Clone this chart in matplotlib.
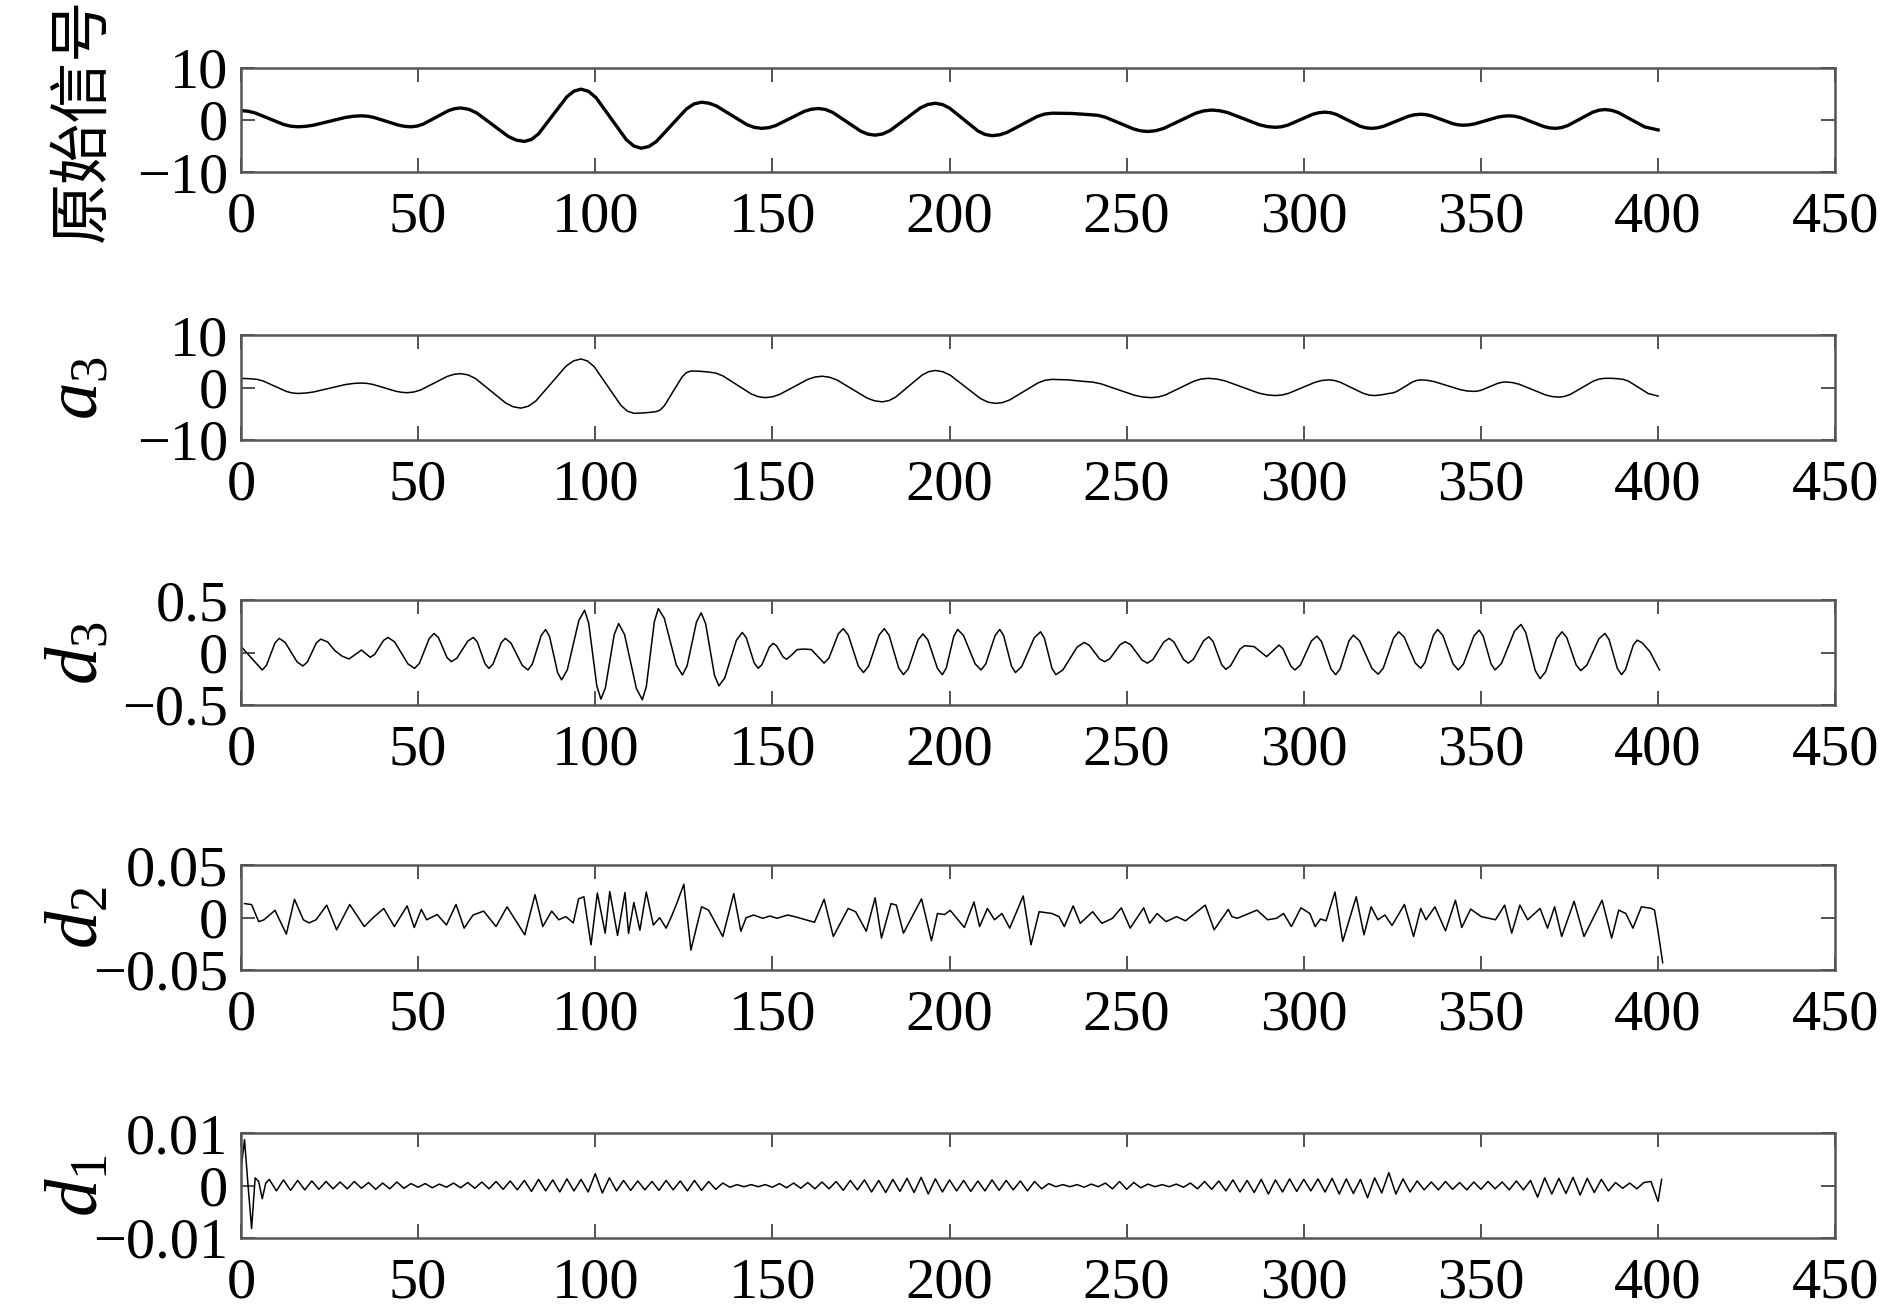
import numpy as np
import matplotlib
matplotlib.use("Agg")
from matplotlib import pyplot as plt

# ---- data (x = sample index) ----
# original signal
sig_x = [0, 2, 4, 8, 12, 14, 16, 18.25, 20.5, 25, 29.5, 31.75, 34, 35.75, 37.5, 41, 44.5,
         46.25, 48, 49.75, 51.5, 55, 58.5, 60.25, 62, 64.25, 66.5, 71, 75.5, 77.75, 80, 82,
         84, 88, 92, 94, 96, 98.125, 100.25, 104.5, 108.75, 110.875, 113, 115.125, 117.25,
         121.5, 125.75, 127.875, 130, 132.125, 134.25, 138.5, 142.75, 144.875, 147, 149,
         151, 155, 159, 161, 163, 165, 167, 171, 175, 177, 179, 181.125, 183.25, 187.5,
         191.75, 193.875, 196, 198, 200, 204, 208, 210, 212, 214.125, 216.25, 220.5, 224.75,
         226.875, 229, 234.5, 240, 242, 244, 248, 252, 254, 256, 258.25, 260.5, 265, 269.5,
         271.75, 274, 276.25, 278.5, 283, 287.5, 289.75, 292, 293.75, 295.5, 299, 302.5,
         304.25, 306, 307.625, 309.25, 312.5, 315.75, 317.375, 319, 320.75, 322.5, 326,
         329.5, 331.25, 333, 334.5, 336, 339, 342, 343.5, 345, 346.625, 348.25, 351.5,
         354.75, 356.375, 358, 359.625, 361.25, 364.5, 367.75, 369.375, 371, 372.75, 374.5,
         378, 381.5, 383.25, 385, 386.875, 388.75, 392.5, 396.25, 400]
sig_y = [1.8, 1.68, 1.35, 0.25, -0.85, -1.18, -1.3, -1.22, -0.99, -0.25, 0.49, 0.72, 0.8,
         0.72, 0.49, -0.25, -0.99, -1.22, -1.3, -1.16, -0.77, 0.5, 1.77, 2.16, 2.3, 2.06,
         1.37, -0.9, -3.17, -3.86, -4.1, -3.72, -2.64, 0.9, 4.44, 5.52, 5.9, 5.47, 4.25,
         0.25, -3.75, -4.97, -5.4, -5.07, -4.12, -1.0, 2.12, 3.07, 3.4, 3.21, 2.67, 0.9,
         -0.87, -1.41, -1.6, -1.46, -1.05, 0.3, 1.65, 2.06, 2.2, 2.01, 1.46, -0.35, -2.16,
         -2.71, -2.9, -2.67, -2.01, 0.15, 2.31, 2.97, 3.2, 2.96, 2.29, 0.1, -2.09, -2.76,
         -3.0, -2.84, -2.37, -0.85, 0.67, 1.14, 1.3, 1.25, 1.0, 0.88, 0.53, -0.6, -1.73,
         -2.08, -2.2, -2.04, -1.6, -0.15, 1.3, 1.74, 1.9, 1.77, 1.42, 0.25, -0.92, -1.27,
         -1.4, -1.29, -0.98, 0.05, 1.08, 1.39, 1.5, 1.38, 1.05, -0.05, -1.15, -1.48, -1.6,
         -1.5, -1.21, -0.25, 0.71, 1.0, 1.1, 1.02, 0.79, 0.05, -0.69, -0.92, -1.0, -0.93,
         -0.74, -0.1, 0.54, 0.73, 0.8, 0.71, 0.45, -0.4, -1.25, -1.51, -1.6, -1.46, -1.07,
         0.2, 1.47, 1.86, 2.0, 1.85, 1.43, 0.05, -1.33, -1.9]

# approximation a3
a3_x = [0, 3, 4.625, 6.25, 9.5, 12.75, 14.375, 16, 18.25, 20.5, 25, 29.5, 31.75, 34,
        35.625, 37.25, 40.5, 43.75, 45.375, 47, 48.875, 50.75, 54.5, 58.25, 60.125, 62,
        64.125, 66.25, 70.5, 74.75, 76.875, 79, 81.125, 83.25, 87.5, 91.75, 93.875, 96,
        97.875, 99.75, 103.5, 107.25, 109.125, 111, 114, 117, 118.25, 119.5, 122, 124.5,
        125.75, 127, 129.5, 132, 134, 136, 140, 144, 146, 148, 150, 152, 156, 160, 162, 164,
        166.125, 168.25, 172.5, 176.75, 178.875, 181, 182.875, 184.75, 188.5, 192.25,
        194.125, 196, 198.125, 200.25, 204.5, 208.75, 210.875, 213, 215, 217, 221, 225, 227,
        229, 233.5, 238, 240.375, 242.75, 247.5, 252.25, 254.625, 257, 259, 261, 265, 269,
        271, 273, 275.375, 277.75, 282.5, 287.25, 289.625, 292, 293.875, 295.75, 299.5,
        303.25, 305.125, 307, 308.625, 310.25, 313.5, 316.75, 318.375, 320, 322, 324,
        325.125, 326.25, 328.5, 330.75, 331.875, 333, 334.875, 336.75, 340.5, 344.25,
        346.125, 348, 349.125, 350.25, 352.5, 354.75, 355.875, 357, 358.875, 360.75, 364.5,
        368.25, 370.125, 372, 373.625, 375.25, 378.5, 381.75, 383.375, 385, 387, 389,
        390.375, 391.75, 394.5, 397.25, 400]
a3_y = [1.8, 1.7, 1.59, 1.29, 0.3, -0.69, -0.99, -1.1, -1.02, -0.81, -0.1, 0.61, 0.82,
        0.9, 0.83, 0.63, -0.03, -0.68, -0.88, -0.95, -0.81, -0.42, 0.88, 2.17, 2.56, 2.7,
        2.45, 1.74, -0.6, -2.94, -3.65, -3.9, -3.54, -2.53, 0.8, 4.13, 5.14, 5.5, 5.1, 3.98,
        0.3, -3.38, -4.5, -4.9, -4.8, -4.6, -4.3, -3.46, -0.7, 2.06, 2.9, 3.2, 3.15, 3.0,
        2.81, 2.28, 0.55, -1.18, -1.71, -1.9, -1.74, -1.3, 0.15, 1.6, 2.04, 2.2, 2.01, 1.48,
        -0.25, -1.98, -2.51, -2.7, -2.47, -1.82, 0.3, 2.42, 3.07, 3.3, 3.06, 2.38, 0.15,
        -2.08, -2.76, -3.0, -2.83, -2.33, -0.7, 0.93, 1.43, 1.6, 1.5, 1.2, 1.08, 0.75, -0.35,
        -1.45, -1.78, -1.9, -1.76, -1.36, -0.05, 1.26, 1.66, 1.8, 1.67, 1.32, 0.15, -1.02,
        -1.37, -1.5, -1.39, -1.06, 0.0, 1.06, 1.39, 1.5, 1.39, 1.06, 0.0, -1.06, -1.39, -1.5,
        -1.35, -1.1, -1.0, -0.72, 0.2, 1.12, 1.4, 1.5, 1.42, 1.18, 0.4, -0.38, -0.62, -0.7,
        -0.63, -0.44, 0.2, 0.84, 1.03, 1.1, 0.99, 0.68, -0.35, -1.38, -1.69, -1.8, -1.66,
        -1.27, 0.0, 1.27, 1.66, 1.8, 1.8, 1.7, 1.57, 1.22, 0.05, -1.12, -1.6]

# detail d3
d3_x = [0, 6, 7.2, 9.6, 10.8, 12.475, 15.825, 17.5, 18.75, 21.25, 22.5, 24.5, 26.5, 28.5,
        30.5, 32.25, 34, 36.5, 37.75, 40.25, 41.5, 43.375, 47.125, 49, 50.375, 53.125, 54.5,
        55.725, 58.175, 59.4, 60.95, 64.05, 65.6, 66.7, 68.9, 70, 71.15, 73.45, 74.6, 76.2,
        79.4, 81, 82.25, 84.75, 86, 87.125, 89.375, 90.5, 92.125, 95.375, 97, 98.15, 100.45,
        101.6, 102.85, 105.35, 106.6, 108.275, 111.625, 113.3, 114.425, 116.675, 117.8,
        119.5, 122.9, 124.6, 125.925, 128.575, 129.9, 131.15, 133.65, 134.9, 136.55,
        139.85, 141.5, 142.625, 144.875, 146, 147.05, 149.15, 150.2, 151.15, 153.05, 154,
        155.5, 157, 159, 161, 162.8, 164.6, 165.95, 168.65, 170, 171.425, 174.275, 175.7,
        177.175, 180.125, 181.6, 182.95, 185.65, 187, 188.375, 191.125, 192.5, 193.875,
        196.625, 198, 199.075, 201.225, 202.3, 203.95, 207.25, 208.9, 210.225, 212.875,
        214.2, 215.3, 217.5, 218.6, 220.375, 223.925, 225.7, 226.775, 228.925, 230, 232,
        236, 238, 239.45, 242.35, 243.8, 245.25, 248.15, 249.6, 251.175, 254.325, 255.9,
        257.425, 260.475, 262, 263.35, 266.05, 267.4, 268.85, 271.75, 273.2, 274.4, 276.8,
        278, 279.325, 281.975, 283.3, 286, 287.75, 289.5, 291.25, 293, 294.125, 296.375,
        297.5, 299.05, 302.15, 303.7, 305.025, 307.675, 309, 310.25, 312.75, 314, 315.75,
        319.25, 321, 322.45, 325.35, 326.8, 328.35, 331.45, 333, 334.2, 336.6, 337.8,
        339.25, 342.15, 343.6, 345.075, 348.025, 349.5, 350.625, 352.875, 354, 355.825,
        359.475, 361.3, 362.65, 365.35, 366.7, 368.25, 371.35, 372.9, 374.225, 376.875,
        378.2, 379.9, 383.3, 385, 386.175, 388.525, 389.7, 390.8, 393, 394.1, 395.5, 397.7,
        400.4]
d3_y = [0.06, -0.165, -0.121, 0.093, 0.137, 0.098, -0.088, -0.127, -0.089, 0.092, 0.13,
        0.102, 0.02, -0.032, -0.06, -0.018, 0.025, -0.044, -0.016, 0.118, 0.146, 0.103,
        -0.107, -0.15, -0.101, 0.135, 0.184, 0.145, -0.047, -0.086, -0.052, 0.112, 0.146,
        0.103, -0.107, -0.15, -0.108, 0.095, 0.137, 0.093, -0.121, -0.165, -0.108, 0.165,
        0.222, 0.152, -0.19, -0.26, -0.163, 0.309, 0.406, 0.282, -0.32, -0.444, -0.338,
        0.173, 0.279, 0.173, -0.344, -0.45, -0.323, 0.295, 0.422, 0.329, -0.12, -0.213,
        -0.126, 0.294, 0.381, 0.279, -0.215, -0.317, -0.242, 0.119, 0.194, 0.144, -0.099,
        -0.149, -0.114, 0.054, 0.089, 0.067, -0.041, -0.063, -0.02, 0.03, 0.035, 0.03,
        -0.035, -0.10, -0.052, 0.182, 0.23, 0.169, -0.129, -0.19, -0.129, 0.169, 0.23,
        0.166, -0.146, -0.21, -0.153, 0.123, 0.18, 0.123, -0.153, -0.21, -0.147, 0.159,
        0.222, 0.165, -0.108, -0.165, -0.108, 0.165, 0.222, 0.162, -0.13, -0.19, -0.133,
        0.143, 0.2, 0.14, -0.15, -0.21, -0.165, 0.053, 0.098, 0.071, -0.059, -0.086, -0.058,
        0.077, 0.105, 0.075, -0.07, -0.10, -0.065, 0.102, 0.137, 0.102, -0.065, -0.10,
        -0.063, 0.115, 0.152, 0.107, -0.114, -0.159, -0.126, 0.034, 0.067, 0.058, 0.01,
        -0.038, 0.018, 0.073, 0.038, -0.13, -0.165, -0.118, 0.112, 0.159, 0.105, -0.156,
        -0.21, -0.155, 0.113, 0.168, 0.113, -0.151, -0.206, -0.147, 0.141, 0.2, 0.149,
        -0.098, -0.149, -0.095, 0.168, 0.222, 0.165, -0.108, -0.165, -0.109, 0.16, 0.216,
        0.16, -0.109, -0.165, -0.101, 0.206, 0.27, 0.194, -0.172, -0.248, -0.183, 0.135,
        0.2, 0.146, -0.117, -0.171, -0.119, 0.132, 0.184, 0.126, -0.152, -0.21, -0.162,
        0.072, 0.12, 0.095, 0.01, -0.165]

# detail d2 (turning points)
d2_x = [1, 3, 5, 6.5, 9.6, 12.8, 15.1, 17.6, 19.2, 21.2, 24.2, 27, 30.7, 34.8, 37.3, 40.3,
        43.3, 46.9, 48.9, 50.9, 52.4, 55.4, 58, 60.7, 63, 65.5, 68.5, 72, 75.1, 80.1, 83,
        85.2, 87.7, 89.7, 91.7, 93.8, 95.3, 96.8, 98.8, 100.6, 102.8, 104.1, 106.3, 108.4,
        109.4, 110.9, 112.6, 114.4, 116.4, 118.2, 120, 121.5, 123, 125, 127, 130, 132, 136,
        139.1, 141.1, 142.6, 144.7, 147.3, 149.3, 151.3, 154.3, 156.3, 161.9, 164.6, 167.2,
        171.4, 173.5, 176.5, 179, 180.8, 183.5, 185, 187, 192.1, 194.9, 196.6, 198.6, 200.2,
        204.2, 206.9, 208.5, 210.7, 212.7, 214.8, 217, 220.8, 223, 225.3, 228.9, 230.9,
        232.4, 234.9, 236.9, 240.4, 243, 246, 248.5, 251, 254.8, 256.5, 258.6, 261.1, 264.1,
        266.6, 272.2, 274.7, 278.7, 279.7, 281.2, 286.8, 289.8, 292.3, 294.3, 296.5, 299.2,
        301.7, 303.2, 304.7, 306.3, 308.8, 311, 314.8, 317, 319, 320.9, 322.9, 324.9, 328.4,
        331, 333, 334.5, 337, 340, 342.8, 344.6, 347.1, 350.1, 354.1, 356.7, 358.7, 361,
        363.2, 366.7, 368.8, 370.8, 372.8, 376.3, 379.1, 384.2, 386.9, 388.9, 390.9, 392.9,
        395.3, 398, 399, 400, 401.3]
d2_y = [0.0135, 0.0125, -0.0038, -0.002, 0.007, -0.0157, 0.0176, -0.002, -0.005, -0.002,
        0.012, -0.0116, 0.0126, -0.0085, 0.0, 0.0088, -0.0085, 0.0113, -0.0094, 0.0079,
        -0.002, 0.003, -0.007, 0.0126, -0.01, 0.0025, 0.0063, -0.0085, 0.0104, -0.0164,
        0.022, -0.0085, 0.0063, -0.002, 0.001, -0.005, 0.018, 0.02, -0.026, 0.0236, -0.0148,
        0.025, -0.017, 0.024, -0.015, 0.0145, -0.012, 0.0245, -0.007, 0.0, -0.01, 0.001,
        0.0135, 0.032, -0.031, 0.0104, 0.0072, -0.018, 0.023, -0.013, 0.0, 0.0025, -0.0006,
        0.0016, -0.0006, 0.0025, 0.001, -0.0044, 0.0176, -0.018, 0.0088, 0.0057, -0.013,
        0.019, -0.0195, 0.0135, 0.012, -0.0148, 0.018, -0.022, 0.004, 0.003, 0.007, -0.0094,
        0.015, -0.0085, 0.0088, -0.002, 0.004, -0.01, 0.0208, -0.026, 0.0057, 0.004, 0.001,
        -0.0085, 0.0113, -0.0054, 0.0057, -0.0054, -0.0006, 0.0094, -0.01, 0.0094, -0.0054,
        0.004, -0.0038, 0.001, -0.003, 0.012, -0.0116, 0.0079, 0.001, -0.0006, 0.0072,
        -0.002, -0.0006, 0.004, -0.0085, 0.0094, 0.004, -0.0085, -0.0013, -0.003, 0.0245,
        -0.0226, 0.02, -0.0164, 0.0104, -0.002, 0.0025, -0.0075, 0.0126, -0.018, 0.0088,
        -0.002, 0.0104, -0.0126, 0.0167, -0.0094, 0.0082, 0.001, -0.002, 0.012, -0.0148,
        0.012, -0.002, 0.0088, -0.01, 0.0104, -0.018, 0.0157, -0.018, 0.0167, -0.0195,
        0.0072, 0.004, -0.01, 0.0104, 0.009, 0.0072, -0.013, -0.043]

# detail d1, in units of 1e-3
d1_head_x = [0, 1, 2, 3, 4, 5, 6, 7]
d1_head = [3.0, 8.8, 0.0, -8.2, 1.5, 0.8, -2.5, 0.5]
d1_body = [  # x = 8, 10, ..., 396
    1.2, -1.0, 1.1, -0.9, 1.0, -0.8, 0.9, -0.7, 0.8, -0.6,
    0.7, -0.6, 0.8, -0.5, 0.6, -0.7, 0.5, -0.6, 0.7, -0.5,
    0.4, -0.3, 0.4, -0.4, 0.3, -0.3, 0.5, -0.4, 0.6, -0.5,
    0.7, -0.6, 0.8, -0.7, 0.9, -0.8, 1.0, -1.1, 1.2, -1.0,
    1.1, -1.2, 1.3, -1.0, 1.2, -1.2, 2.3, -1.4, 1.5, -1.0,
    1.0, -0.9, 0.9, -0.8, 0.8, -0.9, 1.0, -0.8, 0.9, -1.0,
    1.0, -0.9, 0.8, -0.7, 0.5, -0.3, 0.2, -0.2, 0.2, -0.2,
    0.2, -0.3, 0.4, -0.4, 0.5, -0.5, 0.6, -0.6, 0.7, -0.6,
    0.8, -0.9, 1.0, -0.8, 1.1, -1.2, 1.0, -1.3, 1.2, -1.1,
    1.4, -1.3, 1.6, -1.6, 1.3, -1.2, 1.1, -1.0, 1.0, -1.1,
    0.9, -1.0, 1.1, -0.9, 1.0, -0.8, 0.9, -1.0, 0.8, -0.6,
    0.4, -0.2, 0.2, -0.2, 0.2, -0.3, 0.3, -0.2, 0.5, -0.6,
    0.8, -0.7, 0.6, -0.4, 0.3, -0.2, 0.2, -0.2, 0.3, -0.3,
    0.5, -0.6, 0.8, -0.7, 0.9, -1.0, 1.1, -1.2, 1.0, -1.3,
    1.2, -1.6, 1.1, -1.2, 1.3, -1.1, 1.2, -1.0, 1.3, -1.2,
    1.4, -1.6, 1.3, -1.5, 1.2, -2.3, 1.5, -1.4, 2.5, -1.6,
    1.3, -1.2, 0.9, -0.8, 0.7, -0.8, 0.8, -0.7, 0.6, -0.8,
    0.7, -0.7, 0.8, -0.6, 0.7, -0.8, 0.9, -0.8, 1.0, -2.2,
    1.5, -1.6, 1.4, -1.5, 1.6, -1.8, 1.4, -1.3, 1.2, -1.0,
    0.6, -0.5, 0.5, -0.6, 0.6]
d1_tail_x = [398, 400, 401]
d1_tail = [0.8, -3.0, 1.2]

d1_x = d1_head_x + list(range(8, 397, 2)) + d1_tail_x
d1_y = np.array(d1_head + d1_body + d1_tail) * 1e-3

ylabels = ["原始信号", r"$a_3$", r"$d_3$", r"$d_2$", r"$d_1$"]
yticks = [[-10, 0, 10], [-10, 0, 10], [-0.5, 0, 0.5], [-0.05, 0, 0.05], [-0.01, 0, 0.01]]
ytick_text = [["\u221210", "0", "10"], ["\u221210", "0", "10"],
              ["\u22120.5", "0", "0.5"], ["\u22120.05", "0", "0.05"],
              ["\u22120.01", "0", "0.01"]]
xticks = [0, 50, 100, 150, 200, 250, 300, 350, 400, 450]

series = [(sig_x, sig_y), (a3_x, a3_y), (d3_x, d3_y), (d2_x, d2_y), (d1_x, d1_y)]
widths = [2.4, 1.1, 1.1, 1.1, 1.1]

plt.rcParams['font.family'] = ['Liberation Serif', 'Noto Sans CJK SC']
plt.rcParams['mathtext.fontset'] = 'custom'
plt.rcParams['mathtext.it'] = 'Liberation Serif:italic'
plt.rcParams['mathtext.rm'] = 'Liberation Serif'

fig = plt.figure(figsize=(18.9, 13.15), dpi=100)
bottoms = [0.869, 0.6654, 0.4639, 0.2624, 0.0586]
left, width, height = 0.1275, 0.8435, 0.0795

for i in range(5):
    ax = fig.add_axes([left, bottoms[i], width, height])
    x, y = series[i]
    ax.plot(x, y, color='black', lw=widths[i], solid_joinstyle='round')
    ax.set_xlim(0, 450)
    ax.set_ylim(yticks[i][0], yticks[i][-1])
    ax.set_xticks(xticks)
    ax.set_yticks(yticks[i])
    ax.set_yticklabels(ytick_text[i])
    ax.tick_params(direction='in', length=10, width=1.3, color='#444444',
                   top=True, right=True, labelsize=42)
    ax.tick_params(axis='x', pad=14)
    ax.tick_params(axis='y', pad=9)
    for s in ax.spines.values():
        s.set_color('#555555')
        s.set_linewidth(1.8)
    if i == 0:
        ax.set_ylabel(ylabels[i], fontsize=44, family=['Noto Sans CJK SC'])
    else:
        ax.set_ylabel(ylabels[i], fontsize=54)
    ax.yaxis.set_label_coords(-0.08, 0.5)

fig.savefig("out.png", dpi=100)
